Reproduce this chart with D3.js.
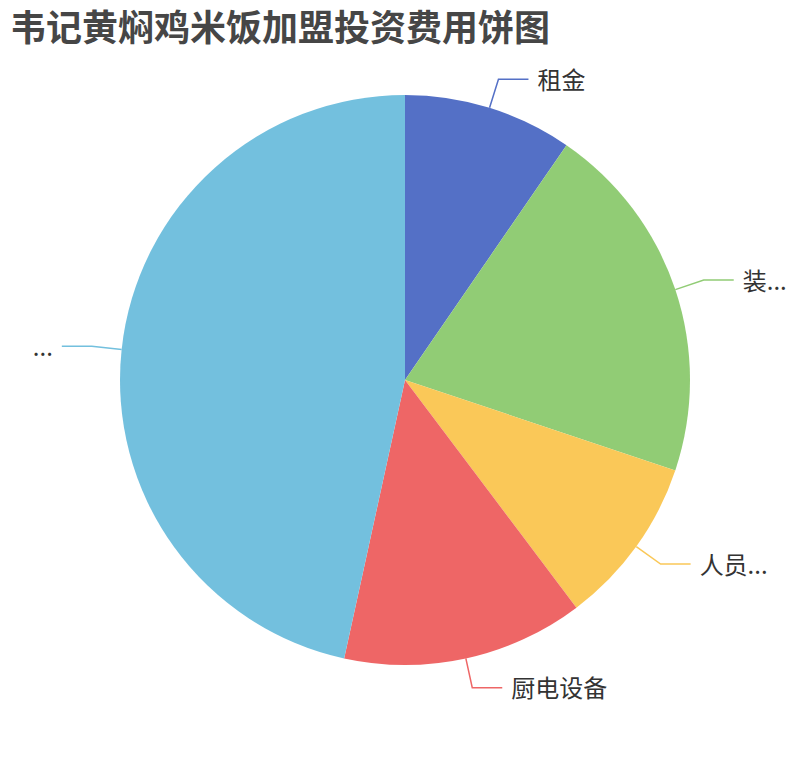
<!DOCTYPE html>
<html>
<head>
<meta charset="utf-8">
<script src="https://cdn.jsdelivr.net/npm/d3@7"></script>
<style>
  html, body { margin: 0; padding: 0; background: #fff; }
  svg text { font-family: "Noto Sans CJK SC", "Noto Sans", sans-serif; }
</style>
</head>
<body>
<div id="chart"></div>
<script>
// slices, clockwise from 12 o'clock
var names = ["租金", "装修费用", "人员工资", "厨电设备", "加盟费"];
var labels = ["租金", "装...", "人员...", "厨电设备", "..."];   // as shown (truncated)
var values = [7, 15, 7, 10, 34];
var colors = ["#5470c6", "#91cc75", "#fac858", "#ee6666", "#73c0de"];

var width = 810, height = 760;
var cx = 405, cy = 380, radius = 285;
var len1 = 30, len2 = 30;

var svg = d3.select("#chart").append("svg")
    .attr("width", width).attr("height", height);

svg.append("text")
    .attr("x", 10).attr("y", 25)
    .attr("dominant-baseline", "central")
    .style("font-size", "36px")
    .style("font-weight", "bold")
    .style("fill", "#464646")
    .text("韦记黄焖鸡米饭加盟投资费用饼图");

var data = names.map(function(n, i) {
  return {name: n, label: labels[i], value: values[i], color: colors[i]};
});

var pie = d3.pie().sort(null).value(function(d) { return d.value; });
var arc = d3.arc().innerRadius(0).outerRadius(radius);
var arcs = pie(data);

var g = svg.append("g").attr("transform", "translate(" + cx + "," + cy + ")");

g.selectAll("path.slice")
  .data(arcs)
  .join("path")
  .attr("class", "slice")
  .attr("d", arc)
  .attr("fill", function(d) { return d.data.color; });

function pt(a, r) { return [r * Math.sin(a), -r * Math.cos(a)]; }

var lab = g.selectAll("g.lab")
  .data(arcs)
  .join("g")
  .attr("class", "lab");

lab.append("polyline")
  .attr("fill", "none")
  .attr("stroke", function(d) { return d.data.color; })
  .attr("stroke-width", 1.5)
  .attr("points", function(d) {
    var a = (d.startAngle + d.endAngle) / 2;
    var p0 = pt(a, radius), p1 = pt(a, radius + len1);
    var dir = Math.sin(a) >= 0 ? 1 : -1;
    return [p0, p1, [p1[0] + dir * len2, p1[1]]].join(" ");
  });

lab.append("text")
  .attr("dominant-baseline", "central")
  .attr("text-anchor", function(d) {
    return Math.sin((d.startAngle + d.endAngle) / 2) >= 0 ? "start" : "end";
  })
  .attr("x", function(d) {
    var a = (d.startAngle + d.endAngle) / 2;
    var dir = Math.sin(a) >= 0 ? 1 : -1;
    return pt(a, radius + len1)[0] + dir * (len2 + 9);
  })
  .attr("y", function(d) {
    var a = (d.startAngle + d.endAngle) / 2;
    return pt(a, radius + len1)[1] - 1;
  })
  .style("font-size", "24px")
  .style("fill", "#333")
  .text(function(d) { return d.data.label; });
</script>
</body>
</html>
